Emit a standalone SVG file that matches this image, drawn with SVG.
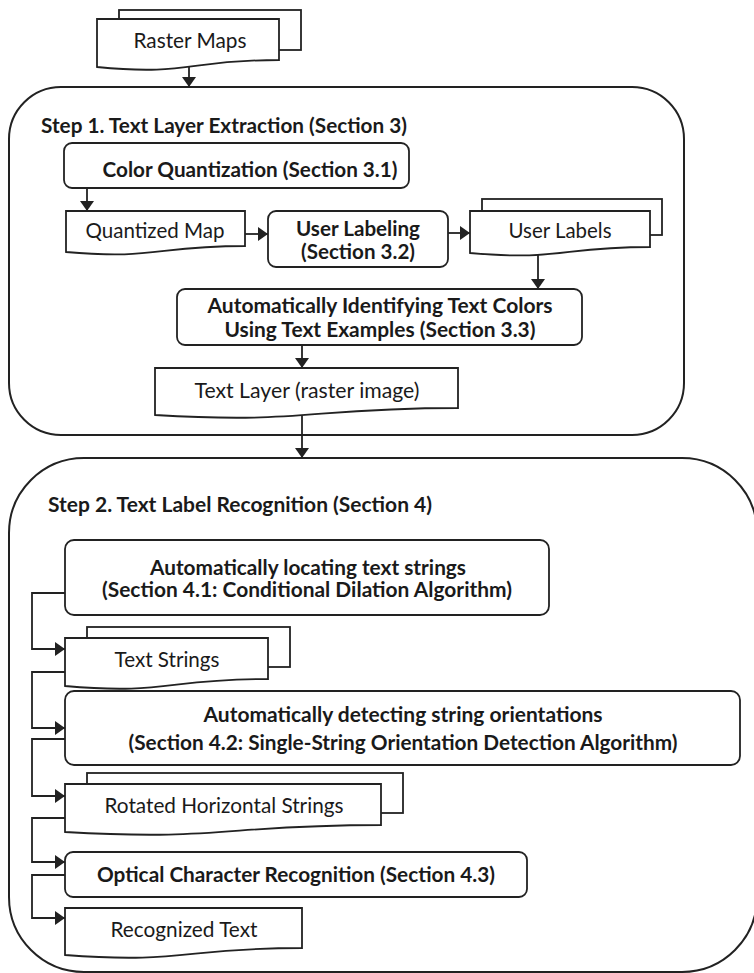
<svg xmlns="http://www.w3.org/2000/svg" width="754" height="973" viewBox="0 0 754 973">
  <style>
    .stage { fill: #ffffff; stroke: #222222; stroke-width: 2; }
    .box { fill: #ffffff; stroke: #222222; stroke-width: 1.8; }
    .doc { fill: #ffffff; stroke: #222222; stroke-width: 1.8; }
    .edge { fill: none; stroke: #222222; stroke-width: 1.8; marker-end: url(#arrow); }
    text { font-family: Lato, "Open Sans", "Liberation Sans", sans-serif; fill: #1a1a1a; font-size: 21px; text-anchor: middle; }
    .b { font-weight: bold; }
  </style>
  <defs>
    <marker id="arrow" markerUnits="userSpaceOnUse" viewBox="0 0 10 14" refX="10" refY="7" markerWidth="10" markerHeight="14" orient="auto">
      <path d="M0,0 L10,7 L0,14 Z" fill="#222222"/>
    </marker>
  </defs>

  <!-- stage containers -->
  <g id="step1">
    <rect class="stage" x="9" y="87" width="675" height="348" rx="52" ry="52"/>
    <text class="b" x="224" y="133" textLength="366" lengthAdjust="spacingAndGlyphs">Step 1. Text Layer Extraction (Section 3)</text>
  </g>
  <g id="step2">
    <rect class="stage" x="9" y="458" width="748" height="514" rx="75" ry="75"/>
    <text class="b" x="240" y="512" textLength="384" lengthAdjust="spacingAndGlyphs">Step 2. Text Label Recognition (Section 4)</text>
  </g>

  <!-- connectors -->
  <g id="connectors">
    <path class="edge" d="M189,62 V87"/>
    <path class="edge" d="M87,188 V211"/>
    <path class="edge" d="M245,234 H268"/>
    <path class="edge" d="M448,233 H470"/>
    <path class="edge" d="M538,249 V289"/>
    <path class="edge" d="M302,345 V368"/>
    <path class="edge" d="M302,410 V458"/>
    <path class="edge" d="M65,593 H32 V649 H65"/>
    <path class="edge" d="M65,672 H32 V728 H65"/>
    <path class="edge" d="M65,739 H32 V796 H65"/>
    <path class="edge" d="M65,818 H32 V862 H65"/>
    <path class="edge" d="M65,875 H32 V918 H65"/>
  </g>

  <!-- Raster Maps (multi-document) -->
  <g id="raster-maps">
    <rect class="doc" x="119" y="10" width="182" height="40"/>
    <path class="doc" d="M97,19 H279 V60 C188,60 188,76 97,67 Z"/>
    <text x="190" y="48" textLength="113" lengthAdjust="spacingAndGlyphs">Raster Maps</text>
  </g>

  <g id="color-quantization">
    <rect class="box" x="64" y="143" width="345" height="45" rx="8" ry="8"/>
    <text class="b" x="250" y="177" textLength="295" lengthAdjust="spacingAndGlyphs">Color Quantization (Section 3.1)</text>
  </g>

  <g id="quantized-map">
    <path class="doc" d="M66,211 H245 V246 C155,246 155,260 66,252 Z"/>
    <text x="155" y="238" textLength="139" lengthAdjust="spacingAndGlyphs">Quantized Map</text>
  </g>

  <g id="user-labeling">
    <rect class="box" x="268" y="211" width="180" height="56" rx="8" ry="8"/>
    <text class="b" x="358" y="236" textLength="124" lengthAdjust="spacingAndGlyphs">User Labeling</text>
    <text class="b" x="358" y="259" textLength="114" lengthAdjust="spacingAndGlyphs">(Section 3.2)</text>
  </g>

  <g id="user-labels">
    <rect class="doc" x="482" y="199" width="180" height="36"/>
    <path class="doc" d="M470,211 H650 V247 C560,247 560,261 470,253 Z"/>
    <text x="560" y="238" textLength="103" lengthAdjust="spacingAndGlyphs">User Labels</text>
  </g>

  <g id="identify-text-colors">
    <rect class="box" x="177" y="289" width="405" height="56" rx="8" ry="8"/>
    <text class="b" x="380" y="313" textLength="345" lengthAdjust="spacingAndGlyphs">Automatically Identifying Text Colors</text>
    <text class="b" x="380" y="337" textLength="311" lengthAdjust="spacingAndGlyphs">Using Text Examples (Section 3.3)</text>
  </g>

  <g id="text-layer">
    <path class="doc" d="M155,368 H458 V408 C306,408 306,424 155,415 Z"/>
    <text x="307" y="398" textLength="225" lengthAdjust="spacingAndGlyphs">Text Layer (raster image)</text>
  </g>

  <g id="locate-text-strings">
    <rect class="box" x="65" y="540" width="484" height="75" rx="9" ry="9"/>
    <text class="b" x="308" y="575" textLength="316" lengthAdjust="spacingAndGlyphs">Automatically locating text strings</text>
    <text class="b" x="307" y="597" textLength="410" lengthAdjust="spacingAndGlyphs">(Section 4.1: Conditional Dilation Algorithm)</text>
  </g>

  <g id="text-strings">
    <rect class="doc" x="87" y="627" width="203" height="40"/>
    <path class="doc" d="M65,638 H268 V679 C166,679 166,695 65,686 Z"/>
    <text x="167" y="667" textLength="105" lengthAdjust="spacingAndGlyphs">Text Strings</text>
  </g>

  <g id="detect-orientations">
    <rect class="box" x="65" y="691" width="675" height="74" rx="9" ry="9"/>
    <text class="b" x="403" y="722" textLength="399" lengthAdjust="spacingAndGlyphs">Automatically detecting string orientations</text>
    <text class="b" x="403" y="750" textLength="549" lengthAdjust="spacingAndGlyphs">(Section 4.2: Single-String Orientation Detection Algorithm)</text>
  </g>

  <g id="rotated-strings">
    <rect class="doc" x="87" y="773" width="316" height="40"/>
    <path class="doc" d="M65,784 H381 V825 C223,825 223,841 65,832 Z"/>
    <text x="224" y="813" textLength="239" lengthAdjust="spacingAndGlyphs">Rotated Horizontal Strings</text>
  </g>

  <g id="ocr">
    <rect class="box" x="65" y="852" width="462" height="45" rx="8" ry="8"/>
    <text class="b" x="296" y="882" textLength="398" lengthAdjust="spacingAndGlyphs">Optical Character Recognition (Section 4.3)</text>
  </g>

  <g id="recognized-text">
    <path class="doc" d="M65,908 H302 V948 C183,948 183,964 65,955 Z"/>
    <text x="184" y="937" textLength="147" lengthAdjust="spacingAndGlyphs">Recognized Text</text>
  </g>
</svg>
